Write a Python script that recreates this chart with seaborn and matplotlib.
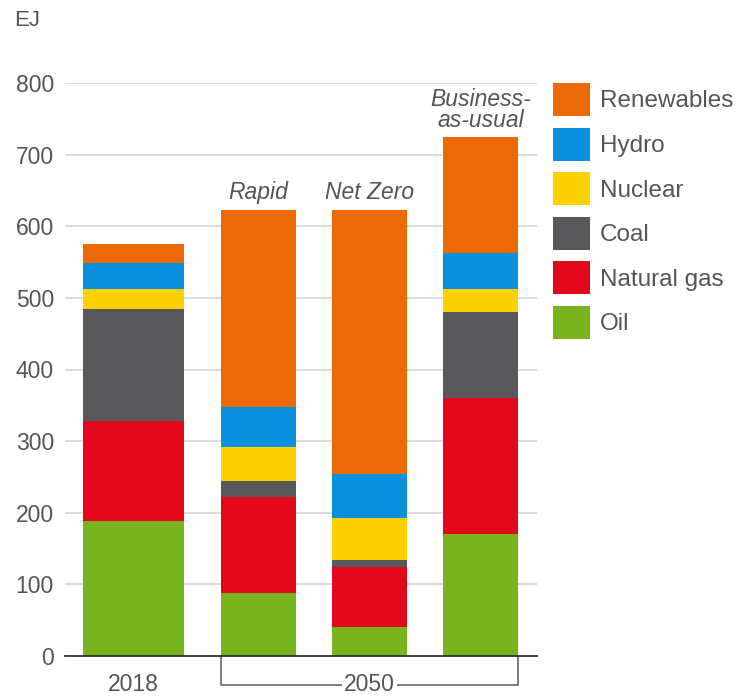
import numpy as np
import seaborn as sns
import matplotlib.pyplot as plt
from matplotlib.patches import Patch
import matplotlib.transforms as mtransforms

# Datos (EJ)
escenarios = ["2018", "Rapid", "Net Zero", "Business-\nas-usual"]
fuentes = ["Oil", "Natural gas", "Coal", "Nuclear", "Hydro", "Renewables"]
oil = [189, 88, 41, 171]
natural_gas = [139, 134, 83, 189]
coal = [157, 23, 10, 120]
nuclear = [27, 47, 58, 32]
hydro = [36, 55, 62, 51]
renewables = [27, 276, 369, 161]
colores = ["#78B41E", "#E2071A", "#58585A", "#FDD000", "#0A90DC", "#EC6A05"]

valores = [oil, natural_gas, coal, nuclear, hydro, renewables]

# posiciones y anchos de las barras (2018 es mas ancha)
pos_x = np.array([0.685, 1.935, 3.045, 4.155])
anchos = np.array([1.01, 0.75, 0.75, 0.75])

sns.set_theme(style="whitegrid")
plt.rcParams["font.family"] = ["Liberation Sans", "DejaVu Sans"]
gris_texto = "#555555"

fig = plt.figure(figsize=(7.43, 6.97), dpi=100)
ax = fig.add_axes([65 / 743, 1 - 656 / 697, 472 / 743, 573 / 697])

base = np.zeros(len(escenarios))
for nombre, vals, col in zip(fuentes, valores, colores):
    ax.bar(pos_x, vals, width=anchos, bottom=base, color=col, edgecolor="none",
           linewidth=0, label=nombre, zorder=3)
    base += np.array(vals)

ax.set_xlim(0, 4.72)
ax.set_ylim(0, 800)
ax.set_yticks(range(0, 801, 100))
ax.grid(axis="y", color="#d2d2d2", linewidth=1.1, zorder=0)
ax.grid(axis="x", visible=False)
for lado in ["left", "right", "top"]:
    ax.spines[lado].set_visible(False)
ax.spines["bottom"].set_color("#333333")
ax.spines["bottom"].set_linewidth(1.3)
ax.spines["bottom"].set_zorder(4)
ax.tick_params(axis="y", length=0, pad=8, labelsize=16.5, labelcolor=gris_texto)
ax.set_xticks([])
ax.set_facecolor("white")

# Etiquetas de escenario sobre las barras
for i in range(1, len(escenarios)):
    ax.text(pos_x[i], base[i] + 8, escenarios[i], ha="center", va="bottom",
            fontsize=16.5, style="italic", color=gris_texto, linespacing=0.9)

# Etiquetas del eje x y el corchete de 2050
trans = mtransforms.blended_transform_factory(ax.transData, ax.transAxes)
y_corchete = -0.05
ax.text(pos_x[0], y_corchete, "2018", transform=trans, ha="center", va="center",
        fontsize=16.5, color=gris_texto, clip_on=False)
x_izq = pos_x[1] - anchos[1] / 2
x_der = pos_x[3] + anchos[3] / 2
ax.plot([x_izq, x_izq, x_der, x_der], [0, y_corchete, y_corchete, 0], transform=trans,
        color="#666666", linewidth=1.2, clip_on=False, zorder=2)
ax.text((x_izq + x_der) / 2, y_corchete, "2050", transform=trans, ha="center", va="center",
        fontsize=16.5, color=gris_texto, clip_on=False,
        bbox=dict(facecolor="white", edgecolor="none", pad=1.5))

# Leyenda
handles = [Patch(facecolor=c, edgecolor="none", label=n) for n, c in zip(fuentes, colores)][::-1]
fig.legend(handles=handles, loc="upper left", bbox_to_anchor=(553 / 743, 1 - 83 / 697),
           frameon=False, handlelength=1.52, handleheight=1.72,
           labelspacing=0.47, handletextpad=0.41, borderpad=0, borderaxespad=0,
           labelcolor=gris_texto, prop={"size": 17.5})

fig.text(14 / 743, 1 - 21 / 697, "EJ", fontsize=16, color=gris_texto, va="center", ha="left")

fig.savefig("out.png", dpi=100, facecolor="white")
